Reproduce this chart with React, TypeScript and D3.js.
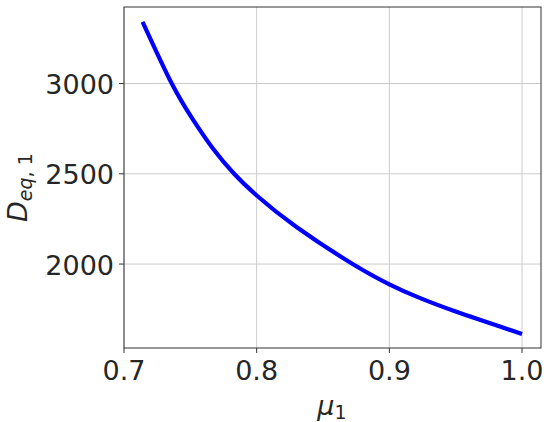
import * as d3 from 'd3';
import { useEffect, useRef } from 'react';

// values
const muValues = [0.714, 0.736, 0.752, 0.767, 0.783, 0.8, 0.83, 0.872, 0.9, 0.921, 0.95, 1.0];
const dValues = [3342, 3000, 2800, 2640, 2500, 2380, 2205, 2002, 1888, 1818, 1737, 1613];
const xTicks = [0.7, 0.8, 0.9, 1.0];
const yTicks = [2000, 2500, 3000];

const App = () => {
  const svgRef = useRef<SVGSVGElement>(null);
  const width = 550;
  const height = 422;
  const left = 124;
  const right = 541;
  const top = 7;
  const bottom = 348;
  const font = 'DejaVu Sans, sans-serif';

  useEffect(() => {
    const svg = d3.select(svgRef.current);
    svg.selectAll('*').remove();

    const x = d3.scaleLinear().domain([0.7, 1.0143]).range([left, right]);
    const y = d3.scaleLinear().domain([1535, 3424]).range([bottom, top]);

    svg.append('rect').attr('width', width).attr('height', height).attr('fill', '#fff');

    // grid
    const grid = svg.append('g').attr('stroke', '#cbcbcb').attr('stroke-width', 1);
    grid
      .selectAll('line.gx')
      .data(xTicks)
      .enter()
      .append('line')
      .attr('x1', (d) => x(d))
      .attr('x2', (d) => x(d))
      .attr('y1', top)
      .attr('y2', bottom);
    grid
      .selectAll('line.gy')
      .data(yTicks)
      .enter()
      .append('line')
      .attr('x1', left)
      .attr('x2', right)
      .attr('y1', (d) => y(d))
      .attr('y2', (d) => y(d));

    // curve
    const pts = muValues.map((m, i) => [m, dValues[i]] as [number, number]);
    const line = d3
      .line<[number, number]>()
      .x((d) => x(d[0]))
      .y((d) => y(d[1]))
      .curve(d3.curveNatural);
    svg
      .append('path')
      .attr('d', line(pts))
      .attr('fill', 'none')
      .attr('stroke', '#0000ff')
      .attr('stroke-width', 4.2);

    // spines
    svg
      .append('rect')
      .attr('x', left)
      .attr('y', top)
      .attr('width', right - left)
      .attr('height', bottom - top)
      .attr('fill', 'none')
      .attr('stroke', '#333')
      .attr('stroke-width', 1);

    // x axis ticks + labels
    const xg = svg.append('g');
    xTicks.forEach((t) => {
      xg.append('line')
        .attr('x1', x(t))
        .attr('x2', x(t))
        .attr('y1', bottom)
        .attr('y2', bottom + 5)
        .attr('stroke', '#333');
      xg.append('text')
        .attr('x', x(t))
        .attr('y', 380)
        .attr('text-anchor', 'middle')
        .attr('font-family', font)
        .attr('font-size', 27)
        .attr('fill', '#262626')
        .text(d3.format('.1f')(t));
    });

    // y axis ticks + labels
    const yg = svg.append('g');
    yTicks.forEach((t) => {
      yg.append('line')
        .attr('x1', left - 5)
        .attr('x2', left)
        .attr('y1', y(t))
        .attr('y2', y(t))
        .attr('stroke', '#333');
      yg.append('text')
        .attr('x', 114)
        .attr('y', y(t) + 10.5)
        .attr('text-anchor', 'end')
        .attr('font-family', font)
        .attr('font-size', 27)
        .attr('fill', '#262626')
        .text(String(t));
    });

    // x label
    const xl = svg
      .append('text')
      .attr('x', 332)
      .attr('y', 415)
      .attr('text-anchor', 'middle')
      .attr('font-family', font)
      .attr('font-size', 27)
      .attr('fill', '#262626');
    xl.append('tspan').attr('font-style', 'italic').text('μ');
    xl.append('tspan').attr('font-size', 19).attr('dy', 4).text('1');

    // y label
    const yl = svg
      .append('text')
      .attr('transform', 'translate(27,222) rotate(-90)')
      .attr('font-family', font)
      .attr('font-size', 27)
      .attr('fill', '#262626');
    yl.append('tspan').attr('font-style', 'italic').text('D');
    yl.append('tspan').attr('font-style', 'italic').attr('font-size', 19).attr('dy', 5).text('eq');
    yl.append('tspan').attr('font-size', 19).text(', 1');
  }, []);

  return (
    <svg
      ref={svgRef}
      width={width}
      height={height}
      style={{ position: 'absolute', left: 0, top: 0 }}
    />
  );
};

export default App;
